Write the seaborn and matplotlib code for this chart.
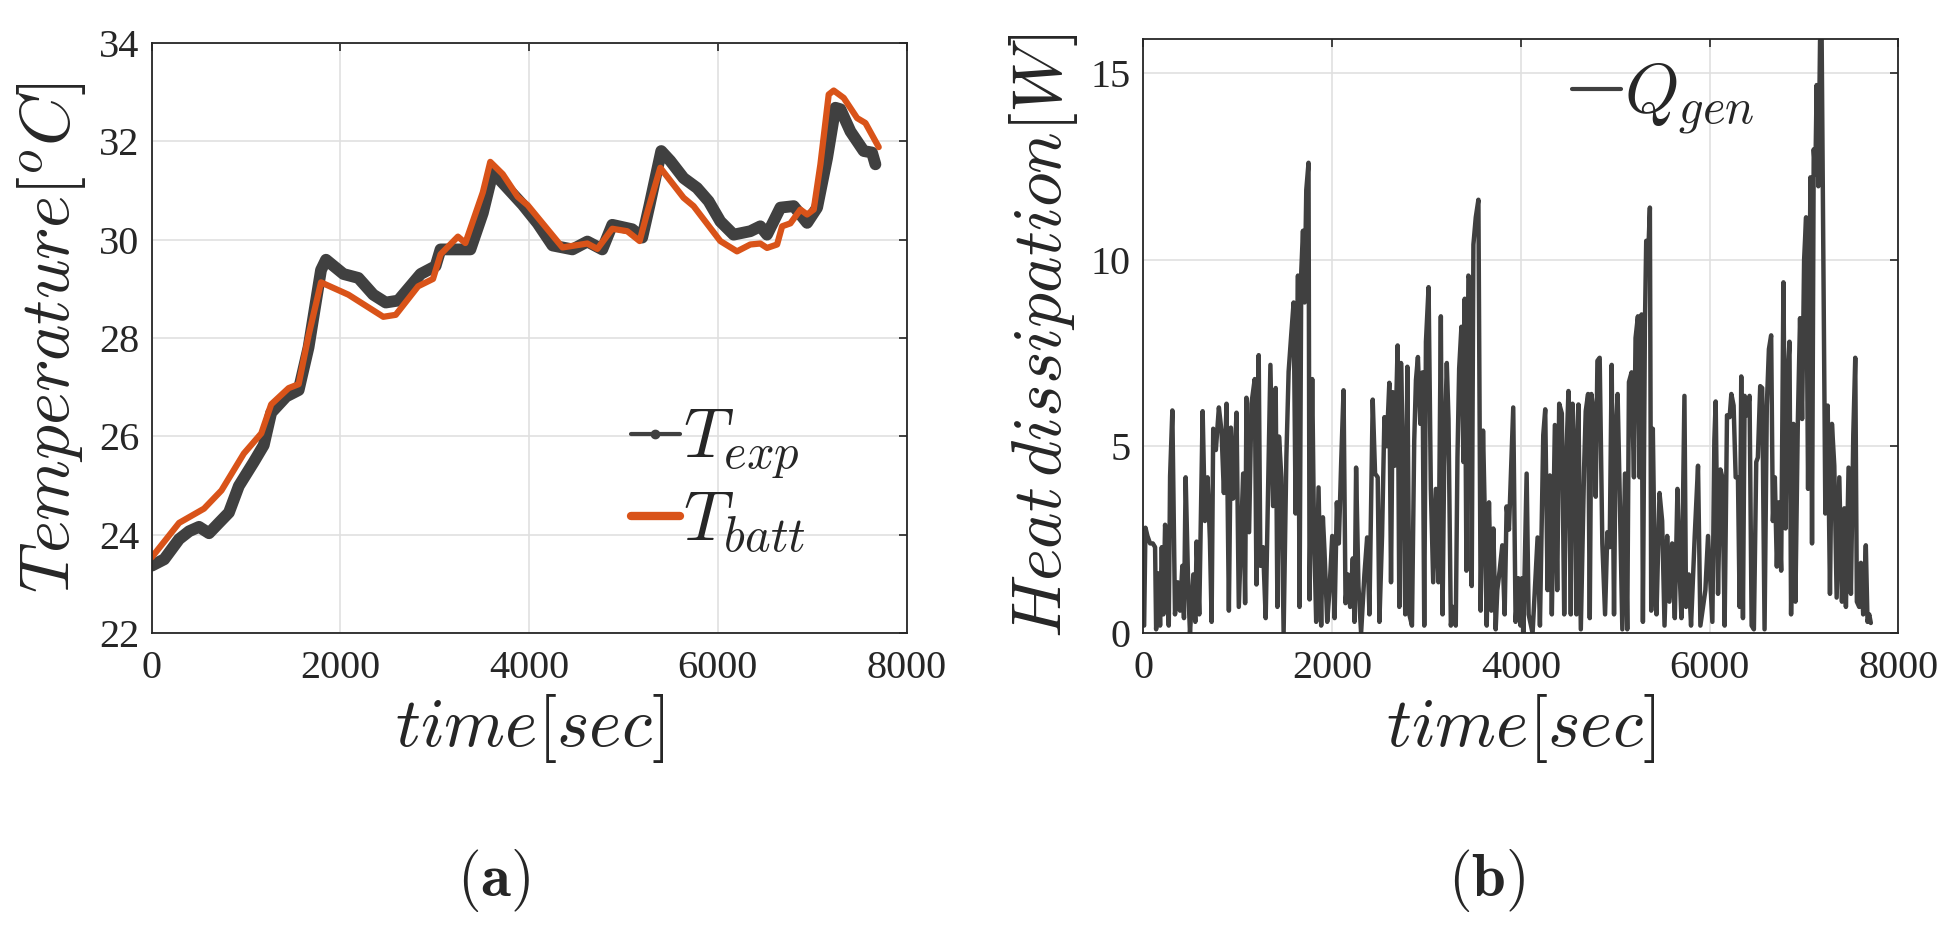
import numpy as np
import pandas as pd
import seaborn as sns
import matplotlib.pyplot as plt
from matplotlib.lines import Line2D

# panel (a): temperature
t_exp = [0, 132, 290, 396, 501, 607, 712, 818, 923, 1082, 1187, 1266, 1425, 1557, 1662, 1794, 1847,
         2032, 2190, 2348, 2480, 2612, 2850, 3008, 3061, 3193, 3377, 3509, 3615, 3773, 3931, 4090,
         4248, 4459, 4617, 4775, 4881, 5092, 5198, 5277, 5400, 5496, 5637, 5779, 5902, 6026, 6167,
         6344, 6450, 6521, 6663, 6804, 6946, 7052, 7158, 7246, 7299, 7405, 7546, 7634, 7670]
T_exp = [23.37, 23.5, 23.91, 24.07, 24.16, 24.03, 24.24, 24.45, 24.99, 25.48, 25.82, 26.48, 26.81,
         26.94, 27.81, 29.38, 29.59, 29.3, 29.22, 28.88, 28.72, 28.76, 29.3, 29.46, 29.8, 29.8, 29.8,
         30.54, 31.37, 31.04, 30.71, 30.33, 29.88, 29.8, 29.96, 29.8, 30.3, 30.21, 30.04, 30.71, 31.8,
         31.6, 31.25, 31.05, 30.78, 30.37, 30.1, 30.17, 30.27, 30.1, 30.65, 30.68, 30.34, 30.65,
         31.66, 32.68, 32.65, 32.2, 31.8, 31.77, 31.53]

t_batt = [0, 290, 554, 739, 976, 1161, 1266, 1451, 1557, 1662, 1794, 2084, 2454, 2586, 2823, 2981,
          3061, 3245, 3324, 3509, 3588, 3720, 3879, 3984, 4353, 4617, 4723, 4881, 5040, 5171, 5250,
          5390, 5637, 5743, 6026, 6203, 6344, 6450, 6521, 6628, 6681, 6769, 6875, 6946, 7016, 7087,
          7175, 7228, 7334, 7476, 7564, 7705]
T_batt = [23.54, 24.24, 24.53, 24.9, 25.65, 26.06, 26.65, 26.98, 27.06, 28.05, 29.13, 28.88, 28.43,
          28.47, 29.05, 29.2, 29.7, 30.06, 29.93, 30.96, 31.58, 31.33, 30.87, 30.7, 29.84, 29.92,
          29.81, 30.22, 30.17, 29.97, 30.54, 31.46, 30.85, 30.68, 29.97, 29.76, 29.9, 29.92, 29.83,
          29.9, 30.27, 30.33, 30.61, 30.51, 30.61, 31.53, 32.95, 33.03, 32.88, 32.47, 32.37, 31.88]

# panel (b): heat generation
t_q = [7, 21, 42, 70, 99, 123, 134, 158, 176, 194, 211, 229, 253, 268, 282, 306, 334, 363, 387, 412,
       429, 447, 475, 493, 528, 549, 563, 591, 627, 651, 679, 704, 722, 739, 767, 799, 827, 852, 880,
       905, 926, 950, 986, 1010, 1056, 1077, 1091, 1119, 1144, 1179, 1197, 1221, 1239, 1267, 1295,
       1345, 1373, 1401, 1419, 1436, 1461, 1485, 1514, 1538, 1566, 1591, 1612, 1637, 1654, 1672,
       1690, 1707, 1725, 1749, 1760, 1788, 1806, 1830, 1855, 1883, 1901, 1918, 1947, 1971,
       2000, 2025, 2049, 2070, 2095, 2120, 2141, 2165, 2190, 2218, 2236, 2253, 2278, 2306, 2341,
       2370, 2394, 2429, 2454, 2482, 2500, 2528, 2553, 2577, 2605, 2623, 2641, 2662, 2693, 2711,
       2729, 2753, 2774, 2796, 2817, 2845, 2869, 2887, 2908, 2933, 2957, 2975, 2993, 3021, 3045,
       3070, 3098, 3126, 3151, 3169, 3186, 3214, 3232, 3257, 3281, 3309, 3327, 3345, 3369, 3390,
       3404, 3422, 3443, 3468, 3478, 3496, 3521, 3549, 3573, 3598, 3619, 3637, 3661, 3686, 3707,
       3732, 3749, 3774, 3802, 3827, 3848, 3873, 3894, 3918, 3943, 3971, 3996,
       4011, 4025, 4060, 4081, 4123, 4176, 4201, 4236, 4257, 4282, 4306, 4327, 4359, 4384, 4405,
       4433, 4458, 4482, 4503, 4528, 4546, 4574, 4588, 4609, 4634, 4669, 4686, 4711, 4729, 4746,
       4767, 4792, 4810, 4834, 4862, 4891, 4915, 4940, 4961, 4986, 5003, 5024, 5045, 5074, 5102,
       5126, 5144, 5172, 5197, 5214, 5239, 5257, 5278, 5292, 5313, 5327, 5345, 5366, 5380, 5397,
       5419, 5436, 5468, 5496, 5521, 5549, 5573, 5602, 5630, 5658, 5679, 5700, 5732, 5749, 5778,
       5802, 5841, 5876, 5901, 5954, 5982,
       6028, 6049, 6063, 6088, 6113, 6134, 6158, 6183, 6211, 6229, 6253, 6275, 6299, 6317, 6334,
       6352, 6370, 6394, 6422, 6444, 6468, 6493, 6510, 6535, 6556, 6581, 6605, 6627, 6651, 6669,
       6690, 6711, 6732, 6757, 6781, 6803, 6820, 6845, 6862, 6887, 6908, 6933, 6957, 6979, 7000,
       7021, 7042, 7067, 7084, 7102, 7119, 7133, 7151, 7169, 7186, 7204, 7225, 7250, 7274, 7295,
       7320, 7345, 7373, 7401, 7426, 7443, 7471, 7496, 7521, 7542, 7559, 7584, 7602, 7626, 7654,
       7672, 7690, 7707]
Q_gen = [0.2, 2.82, 2.6, 2.4, 2.4, 2.3, 0.1, 1.6, 0.2, 2.3, 0.5, 2.9, 1.7, 0.2, 4.2, 5.96, 0.5, 1.36,
         0.6, 1.8, 0.4, 4.17, 1.15, 0.0, 1.57, 0.3, 2.45, 0.5, 5.94, 3.0, 4.17, 2.5, 0.3, 5.47, 4.9,
         6.04, 5.4, 3.75, 6.14, 0.6, 5.5, 3.6, 5.9, 0.7, 4.27, 0.8, 6.3, 2.7, 6.14, 6.8, 1.3, 7.44,
         1.8, 2.3, 0.4, 7.18, 3.4, 6.56, 0.7, 5.26, 4.17, 0.0, 4.7, 7.0, 8.0, 8.85, 3.2, 9.57, 0.7,
         9.68, 10.77, 8.85, 11.86, 12.59, 0.9, 6.8, 2.9, 0.3, 3.9, 0.2, 3.1, 2.2, 0.3, 1.15,
         2.6, 0.4, 3.5, 2.4, 4.58, 6.5, 0.8, 1.57, 0.7, 2.0, 0.3, 4.43, 1.26, 0.0, 1.57, 2.56, 0.5,
         6.25, 4.27, 4.17, 0.3, 2.6, 5.78, 5.0, 6.7, 1.36, 6.45, 4.48, 7.7, 0.7, 7.23, 4.38, 0.5,
         7.13, 0.5, 0.2, 5.16, 6.77, 7.39, 5.6, 6.98, 0.2, 7.8, 9.26, 3.86, 1.36, 3.86, 1.36, 8.48,
         0.5, 4.48, 7.23, 5.73, 0.2, 0.7, 0.2, 4.7, 7.08, 8.2, 4.58, 8.95, 1.67, 9.57, 9.37, 1.26,
         10.4, 11.13, 11.6, 0.6, 5.42, 2.9, 0.2, 3.5, 0.6, 2.8, 0.1, 1.15, 1.67, 2.35, 0.5, 3.39,
         2.77, 4.32, 6.04, 0.3, 1.47, 0.2,
         1.47, 0.0, 4.27, 0.5, 0.0, 2.56, 0.2, 5.3, 5.99, 1.15, 4.22, 0.5, 5.57, 1.15, 6.14, 5.88,
         0.5, 4.8, 6.48, 0.5, 6.14, 4.7, 0.5, 6.12, 0.1, 4.43, 5.94, 6.4, 0.4, 6.4, 5.99, 3.65, 7.29,
         7.37, 2.4, 0.5, 2.7, 2.3, 7.18, 0.5, 5.3, 6.4, 3.86, 0.1, 4.27, 0.1, 6.72, 6.98, 4.17, 7.9,
         8.48, 4.17, 8.53, 0.3, 8.2, 10.5, 9.89, 11.39, 0.6, 5.47, 1.47, 0.5, 3.75, 3.0, 0.2, 2.6,
         0.84, 2.4, 0.4, 3.86, 1.78, 0.4, 6.35, 0.7, 1.57, 0.2, 2.6, 4.48, 0.2, 1.15, 2.6,
         0.3, 5.16, 6.2, 1.05, 4.38, 4.17, 0.2, 5.83, 5.78, 6.4, 6.09, 4.17, 4.17, 0.7, 6.87, 0.4,
         6.35, 5.83, 6.35, 0.2, 0.1, 4.58, 4.7, 6.61, 6.56, 0.1, 6.09, 7.6, 7.97, 3.0, 4.17, 1.78,
         3.5, 1.67, 9.39, 2.8, 6.61, 7.8, 0.5, 5.6, 0.84, 5.57, 8.43, 5.73, 9.99, 11.13, 3.86, 12.2,
         2.4, 12.95, 12.28, 14.67, 11.96, 15.86, 15.9, 9.89, 3.2, 6.09, 1.05, 5.6, 4.48, 0.95, 4.17,
         0.84, 3.34, 0.7, 4.43, 1.05, 5.3, 7.37, 0.84, 0.7, 1.88, 0.5, 2.35, 0.3, 0.5, 0.27]

dark = "#404040"
orange = "#D95319"

sns.set_style("white")
plt.rcParams["font.family"] = ["Liberation Serif", "DejaVu Serif"]
plt.rcParams["mathtext.fontset"] = "cm"

fig = plt.figure(figsize=(19.58, 9.31), dpi=100)
ax1 = fig.add_axes([0.0775, 0.320, 0.3855, 0.634])
ax2 = fig.add_axes([0.584, 0.320, 0.3856, 0.638])

exp_df = pd.DataFrame({"t": t_exp, "T": T_exp})
batt_df = pd.DataFrame({"t": t_batt, "T": T_batt})
q_df = pd.DataFrame({"t": t_q, "Q": Q_gen})

sns.lineplot(data=exp_df, x="t", y="T", ax=ax1, color=dark, lw=8.5, estimator=None,
             solid_joinstyle="round", solid_capstyle="round")
sns.lineplot(data=batt_df, x="t", y="T", ax=ax1, color=orange, lw=4.5, estimator=None,
             solid_joinstyle="round")
sns.lineplot(data=q_df, x="t", y="Q", ax=ax2, color=dark, lw=3.2, estimator=None)

ax1.set_xlim(0, 8000)
ax1.set_ylim(22, 34)
ax1.set_yticks(np.arange(22, 35, 2))
ax2.set_xlim(0, 8000)
ax2.set_ylim(0, 15.9)
ax2.set_yticks([0, 5, 10, 15])

for ax in (ax1, ax2):
    ax.set_xticks(np.arange(0, 8001, 2000))
    ax.grid(True, color="#e0e0e0", lw=1.2)
    ax.set_axisbelow(True)
    for s in ax.spines.values():
        s.set_visible(True)
        s.set_color("#262626")
        s.set_linewidth(1.3)
    ax.tick_params(direction="in", length=6, width=1.2, top=True, right=True,
                   labelsize=29, colors="#262626")
    ax.tick_params(axis="x", pad=12)
    ax.tick_params(axis="y", pad=9)
    ax.set_xlabel(r"$time[sec]$", fontsize=50, color="#262626", labelpad=4)

ax1.set_ylabel(r"$Temperature[^oC]$", fontsize=50, color="#262626", labelpad=8)
ax2.set_ylabel(r"$Heat\,dissipation[W]$", fontsize=50, color="#262626", labelpad=8)

h_exp = Line2D([], [], color=dark, lw=3, marker="o", markersize=6)
h_batt = Line2D([], [], color=orange, lw=6)
ax1.legend([h_exp, h_batt], [r"$T_{exp}$", r"$T_{batt}$"], loc="center left",
           bbox_to_anchor=(631 / 1958, 1 - 482 / 931), bbox_transform=fig.transFigure,
           frameon=False, fontsize=50, handlelength=0.7, handletextpad=0.05,
           borderpad=0, borderaxespad=0, labelspacing=0.12, numpoints=1)

h_q = Line2D([], [], color=dark, lw=3)
ax2.legend([h_q], [r"$Q_{gen}$"], loc="center left",
           bbox_to_anchor=(1572 / 1958, 1 - 100 / 931), bbox_transform=fig.transFigure,
           frameon=False, fontsize=50, handlelength=0.7, handletextpad=0.05,
           borderpad=0, borderaxespad=0)

fig.text(494 / 1958, 1 - 881 / 931, r"$(\mathbf{a})$", fontsize=44, ha="center", va="center")
fig.text(1487 / 1958, 1 - 881 / 931, r"$(\mathbf{b})$", fontsize=44, ha="center", va="center")

fig.savefig("out.png", dpi=100, facecolor="white")
